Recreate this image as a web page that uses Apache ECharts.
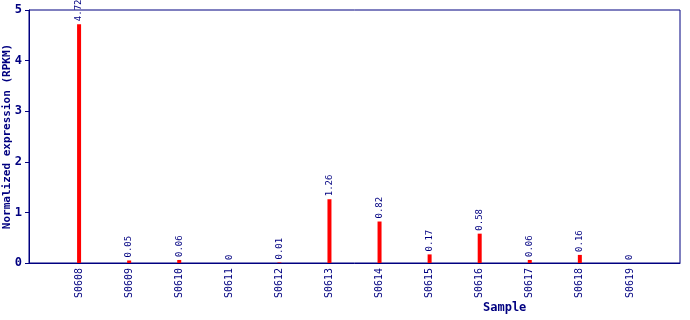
<!DOCTYPE html>
<html><head><meta charset="utf-8">
<script src="https://cdn.jsdelivr.net/npm/echarts@6/dist/echarts.min.js"></script>
<style>html,body{margin:0;padding:0;background:#fff}#c{width:690px;height:320px}</style>
</head><body><div id="c"></div>
<script>
const samples = ['S0608','S0609','S0610','S0611','S0612','S0613','S0614','S0615','S0616','S0617','S0618','S0619'];
const values = [4.72,0.05,0.06,0,0.01,1.26,0.82,0.17,0.58,0.06,0.16,0];
const yTicks = [0,1,2,3,4,5];

const cats = [''].concat(samples, ['']);
const data = [null].concat(values, [null]);
const navy = '#000080';
const mono = "'DejaVu Sans Mono', 'Liberation Mono', monospace";
const chart = echarts.init(document.getElementById('c'), null, {renderer:'canvas'});
chart.setOption({
  animation:false,
  grid:{left:29,right:10,top:10,bottom:57,show:true,borderColor:navy,borderWidth:1,backgroundColor:'transparent',outerBoundsMode:'none',containLabel:false},
  xAxis:{type:'category',data:cats,boundaryGap:false,
    axisLine:{lineStyle:{color:navy,width:1}},axisTick:{show:false},
    axisLabel:{interval:0,rotate:90,color:navy,fontFamily:mono,fontSize:10,margin:5},
    splitLine:{show:false}},
  yAxis:{type:'value',min:yTicks[0],max:yTicks[yTicks.length-1],interval:1,
    axisLine:{show:true,lineStyle:{color:navy,width:1}},
    axisTick:{show:true,length:4,lineStyle:{color:navy}},
    axisLabel:{color:navy,fontFamily:mono,fontSize:12,fontWeight:'bold',margin:7},
    splitLine:{show:false},
    name:'Normalized expression (RPKM)',nameLocation:'middle',nameGap:16,nameMoveOverlap:false,
    nameTextStyle:{color:navy,fontFamily:mono,fontSize:11,fontWeight:'bold'}},
  graphic:[{type:'text',left:483,top:302,style:{text:'Sample',fill:navy,font:"bold 12px 'DejaVu Sans Mono', monospace"}}],
  series:[{type:'bar',data:data,barWidth:4,itemStyle:{color:'#ff0000'},
    label:{show:true,position:'top',rotate:90,align:'left',verticalAlign:'middle',distance:3,
      color:navy,fontFamily:mono,fontSize:9,
      formatter:p=>String(p.value)}}]
});
</script></body></html>
